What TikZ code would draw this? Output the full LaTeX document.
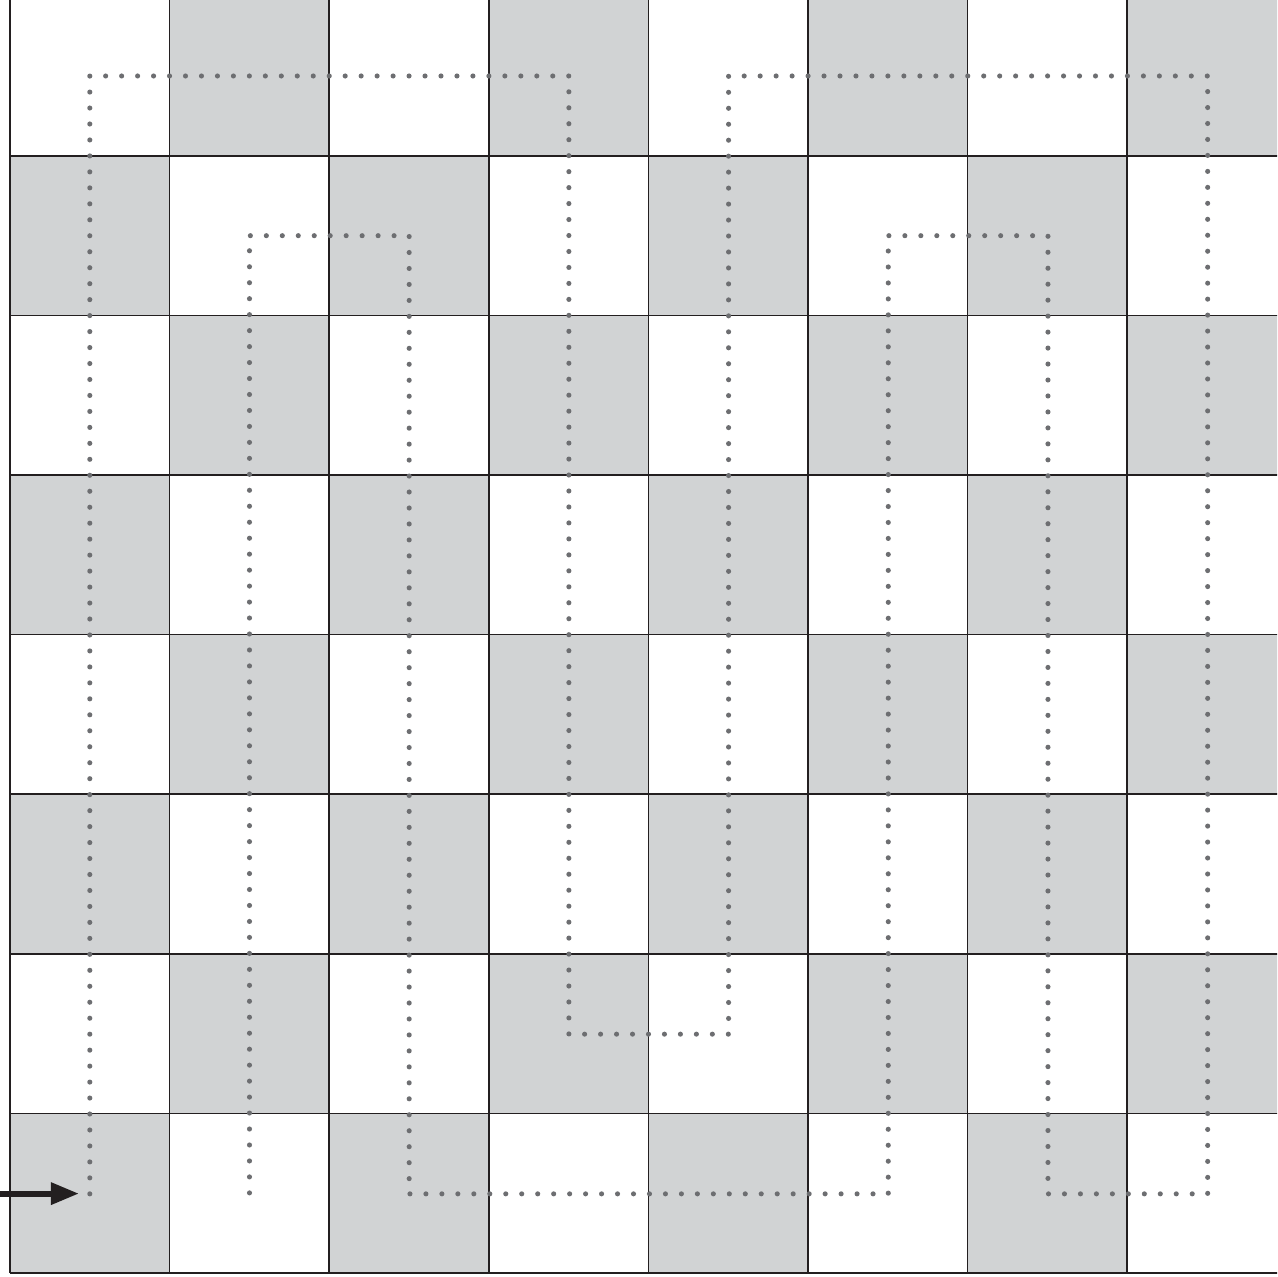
\documentclass[tikz,border=0pt]{standalone}
\usetikzlibrary{arrows.meta}
\definecolor{cellgray}{HTML}{D1D3D4}
\definecolor{dotgray}{HTML}{6D6E71}
\definecolor{gridline}{HTML}{231F20}
\tikzset{
  cellfill/.style={fill=cellgray},
  gridstroke/.style={draw=gridline, line width=0.45pt},
  tourpath/.style={draw=dotgray, line width=1.45pt, line cap=round, line join=round,
                   dash pattern=on 0pt off 4.5406pt},
  entryarrow/.style={draw=gridline, line width=0.06cm, -{Triangle[length=0.28cm,width=0.21cm]}}
}
\begin{document}
\begin{tikzpicture}[x=0.01cm, y=-0.01cm]
\useasboundingbox (0,0) rectangle (1277,1277);
\fill[white] (0,0) rectangle (1277,1277);
\begin{scope}
\clip (0,0) rectangle (1277,1277);
% checkerboard cells
\foreach \r in {0,...,7} {
  \foreach \c in {0,...,7} {
    \pgfmathtruncatemacro\oddcell{mod(\r+\c,2)}
    \ifnum\oddcell=1
      \fill[cellfill] (10+\c*159.6, -3.8+\r*159.6) rectangle ++(159.6,159.6);
    \fi
  }
}
% grid lines
\foreach \k in {0,...,8} {
  \draw[gridstroke] (10+\k*159.6, -3.8) -- (10+\k*159.6, 1273);
  \draw[gridstroke] (10, -3.8+\k*159.6) -- (1286.8, -3.8+\k*159.6);
}
\end{scope}
% dotted tour through cell centres
\begin{scope}[shift={(89.8,76)}, x=1.596cm, y=-1.596cm]
  \coordinate (p0) at (0,7);
  \coordinate (pend) at (1,7);
  \draw[tourpath] (p0) -- (0,0) -- (3,0) -- (3,6) -- (4,6) -- (4,0) -- (7,0) -- (7,7)
    -- (6,7) -- (6,1) -- (5,1) -- (5,7) -- (2,7) -- (2,1) -- (1,1) -- (pend);
\end{scope}
% entry arrow
\coordinate (arrowtail) at (0,1193.6);
\coordinate (arrowtip) at (79,1193.6);
\draw[entryarrow] (arrowtail) -- (arrowtip);
\end{tikzpicture}
\end{document}
